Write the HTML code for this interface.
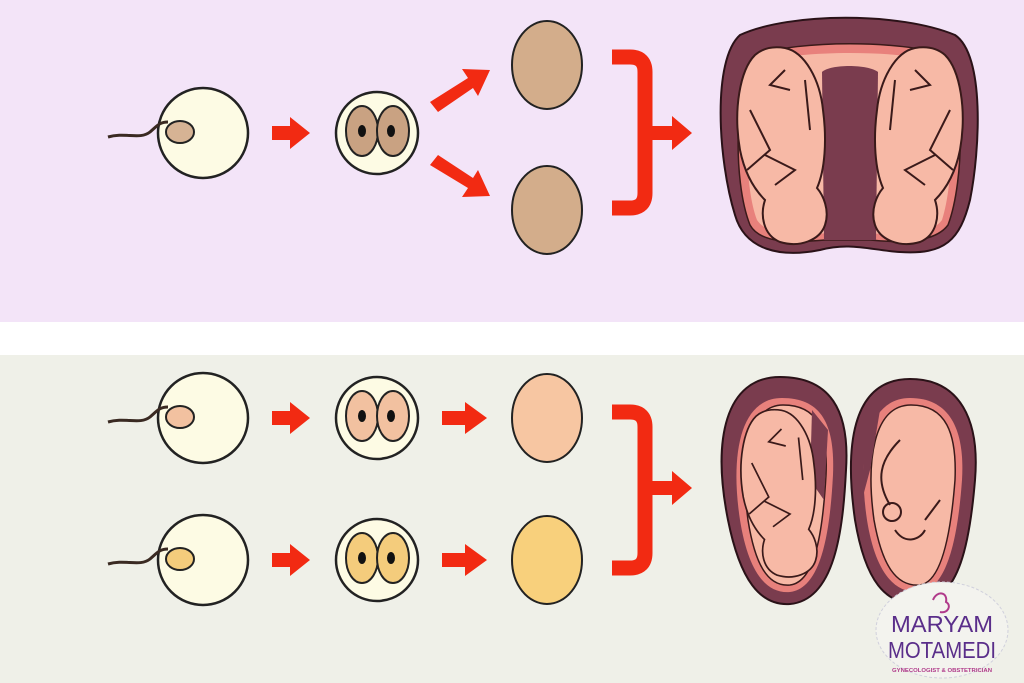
<!DOCTYPE html>
<html><head><style>
html,body{margin:0;padding:0;background:#fff;}
svg{display:block;}
</style></head><body>
<svg width="1024" height="683" viewBox="0 0 1024 683" xmlns="http://www.w3.org/2000/svg">
<defs>
<g id="egg">
  <circle cx="0" cy="0" r="45" fill="#fdfbe4" stroke="#222" stroke-width="2.5"/>
</g>
<g id="fetusL">
  <path d="M-40,-75 C-55,-60 -62,-20 -55,20 C-50,45 -40,60 -30,70 C-35,85 -32,105 -15,112 C5,118 25,110 30,95 C35,80 28,65 22,58 C30,40 32,10 28,-20 C25,-50 10,-78 -10,-82 C-22,-84 -32,-82 -40,-75 Z" fill="#f7b9a6" stroke="#3a1a1a" stroke-width="2"/>
  <path d="M-45,-20 L-25,20 L-48,40 M-10,-60 L-25,-45 L-5,-40 M-30,25 L0,40 L-20,55 M10,-50 L15,0" fill="none" stroke="#3a1a1a" stroke-width="2"/>
</g>
</defs>

<rect x="0" y="0" width="1024" height="322" fill="#f3e4f8"/>
<rect x="0" y="322" width="1024" height="33" fill="#ffffff"/>
<rect x="0" y="355" width="1024" height="328" fill="#eff0e8"/>

<!-- ===== TOP ROW ===== -->
<use href="#egg" x="203" y="133"/>
<path d="M108,137 C125,132 140,140 150,132 C158,125 160,122 168,122" fill="none" stroke="#3a2a22" stroke-width="3"/>
<ellipse cx="180" cy="132" rx="14" ry="11" fill="#d6b394" stroke="#222" stroke-width="2"/>

<path d="M272,126 L290,126 L290,117 L310,133 L290,149 L290,140 L272,140 Z" fill="#f22a12"/>

<circle cx="377" cy="133" r="41" fill="#fdfbe4" stroke="#222" stroke-width="2.5"/>
<ellipse cx="362" cy="131" rx="16" ry="25" fill="#c9a282" stroke="#222" stroke-width="2"/>
<ellipse cx="393" cy="131" rx="16" ry="25" fill="#c9a282" stroke="#222" stroke-width="2"/>
<ellipse cx="362" cy="131" rx="4" ry="6" fill="#111"/>
<ellipse cx="391" cy="131" rx="4" ry="6" fill="#111"/>

<path d="M430,102 L468,78 L462,69 L490,70 L478,96 L473,88 L438,112 Z" fill="#f22a12"/>
<path d="M438,155 L473,178 L478,170 L490,196 L462,197 L468,188 L430,165 Z" fill="#f22a12"/>

<ellipse cx="547" cy="65" rx="35" ry="44" fill="#d3ad8b" stroke="#222" stroke-width="2"/>
<ellipse cx="547" cy="210" rx="35" ry="44" fill="#d3ad8b" stroke="#222" stroke-width="2"/>

<path d="M612,57 L630,57 Q645,57 645,72 L645,193 Q645,208 630,208 L612,208" fill="none" stroke="#f22a12" stroke-width="15"/>
<path d="M645,126 L672,126 L672,116 L692,133 L672,150 L672,140 L645,140 Z" fill="#f22a12"/>

<!-- top uterus -->
<path d="M740,35 C790,12 900,12 955,35 C985,55 980,150 970,200 C960,240 945,255 900,252 C870,250 850,242 820,250 C780,258 745,250 735,215 C718,160 712,60 740,35 Z" fill="#7a3c4e" stroke="#2a1218" stroke-width="2"/>
<path d="M755,55 C800,40 900,40 945,55 C965,80 965,180 948,225 C935,243 900,243 870,240 L825,240 C790,243 760,243 750,225 C732,180 735,80 755,55 Z" fill="#e8817c" stroke="#3a1a1a" stroke-width="1.5"/>
<path d="M762,62 C800,50 900,50 938,62 C955,90 955,180 942,220 C930,236 900,236 870,233 L828,233 C795,236 768,236 757,220 C742,180 745,90 762,62 Z" fill="#f7b9a6"/>
<path d="M822,72 C830,64 868,64 878,72 L876,240 L824,240 Z" fill="#7a3c4e"/>
<use href="#fetusL" x="795" y="130"/>
<use href="#fetusL" x="905" y="130" transform="translate(1810,0) scale(-1,1)"/>

<!-- ===== BOTTOM ROWS ===== -->
<g>
<use href="#egg" x="203" y="418"/>
<path d="M108,422 C125,417 140,425 150,417 C158,410 160,407 168,407" fill="none" stroke="#3a2a22" stroke-width="3"/>
<ellipse cx="180" cy="417" rx="14" ry="11" fill="#f2c1a0" stroke="#222" stroke-width="2"/>
<path d="M272,411 L290,411 L290,402 L310,418 L290,434 L290,425 L272,425 Z" fill="#f22a12"/>
<circle cx="377" cy="418" r="41" fill="#fdfbe4" stroke="#222" stroke-width="2.5"/>
<ellipse cx="362" cy="416" rx="16" ry="25" fill="#f2c1a0" stroke="#222" stroke-width="2"/>
<ellipse cx="393" cy="416" rx="16" ry="25" fill="#f2c1a0" stroke="#222" stroke-width="2"/>
<ellipse cx="362" cy="416" rx="4" ry="6" fill="#111"/>
<ellipse cx="391" cy="416" rx="4" ry="6" fill="#111"/>
<path d="M442,411 L465,411 L465,402 L487,418 L465,434 L465,425 L442,425 Z" fill="#f22a12"/>
<ellipse cx="547" cy="418" rx="35" ry="44" fill="#f7c6a2" stroke="#222" stroke-width="2"/>
</g>
<g>
<use href="#egg" x="203" y="560"/>
<path d="M108,564 C125,559 140,567 150,559 C158,552 160,549 168,549" fill="none" stroke="#3a2a22" stroke-width="3"/>
<ellipse cx="180" cy="559" rx="14" ry="11" fill="#f4cc7c" stroke="#222" stroke-width="2"/>
<path d="M272,553 L290,553 L290,544 L310,560 L290,576 L290,567 L272,567 Z" fill="#f22a12"/>
<circle cx="377" cy="560" r="41" fill="#fdfbe4" stroke="#222" stroke-width="2.5"/>
<ellipse cx="362" cy="558" rx="16" ry="25" fill="#f4cc7c" stroke="#222" stroke-width="2"/>
<ellipse cx="393" cy="558" rx="16" ry="25" fill="#f4cc7c" stroke="#222" stroke-width="2"/>
<ellipse cx="362" cy="558" rx="4" ry="6" fill="#111"/>
<ellipse cx="391" cy="558" rx="4" ry="6" fill="#111"/>
<path d="M442,553 L465,553 L465,544 L487,560 L465,576 L465,567 L442,567 Z" fill="#f22a12"/>
<ellipse cx="547" cy="560" rx="35" ry="44" fill="#f8d07c" stroke="#222" stroke-width="2"/>
</g>

<path d="M612,412 L630,412 Q645,412 645,427 L645,553 Q645,568 630,568 L612,568" fill="none" stroke="#f22a12" stroke-width="15"/>
<path d="M645,481 L672,481 L672,471 L692,488 L672,505 L672,495 L645,495 Z" fill="#f22a12"/>

<!-- bottom uteri -->
<path d="M780,377 C830,377 850,410 846,470 C843,530 835,600 790,604 C760,606 740,580 728,520 C712,440 725,377 780,377 Z" fill="#7a3c4e" stroke="#2a1218" stroke-width="2"/>
<path d="M782,398 C822,398 835,425 833,475 C830,530 822,588 790,592 C765,594 748,570 740,520 C730,455 740,398 782,398 Z" fill="#e8817c"/>
<path d="M783,405 C818,405 828,430 826,475 C823,528 816,582 790,585 C768,587 755,565 748,520 C740,460 748,405 783,405 Z" fill="#f7b9a6" stroke="#3a1a1a" stroke-width="1.5"/>
<path d="M812,410 L828,430 L824,500 L810,480 Z" fill="#7a3c4e"/>
<use href="#fetusL" x="790" y="480" transform="translate(790,480) scale(0.85) translate(-790,-480)"/>

<path d="M910,379 C960,379 980,420 975,480 C970,540 960,600 920,604 C885,606 865,580 855,520 C845,450 850,379 910,379 Z" fill="#7a3c4e" stroke="#2a1218" stroke-width="2"/>
<path d="M910,398 C950,398 965,430 962,480 C958,535 948,588 920,592 C893,594 875,570 867,520 C858,460 865,398 910,398 Z" fill="#e8817c"/>
<path d="M911,405 C946,405 957,433 955,480 C951,532 942,582 920,585 C896,587 882,565 874,520 C866,462 873,405 911,405 Z" fill="#f7b9a6" stroke="#3a1a1a" stroke-width="1.5"/>
<path d="M866,420 L880,410 L870,470 L862,500 Z" fill="#7a3c4e"/>
<circle cx="892" cy="512" r="9" fill="#f7b9a6" stroke="#3a1a1a" stroke-width="2"/>
<path d="M900,440 C880,460 875,480 890,505 M925,520 L940,500 M895,530 C905,545 920,540 925,530" fill="none" stroke="#3a1a1a" stroke-width="2"/>

<!-- logo -->
<ellipse cx="942" cy="630" rx="66" ry="48" fill="#f3f3ee" stroke="#d0d0dc" stroke-width="1" stroke-dasharray="3,2"/>
<path d="M933,600 C937,590 948,592 946,602 C952,605 948,614 940,612" fill="none" stroke="#b03a8a" stroke-width="2"/>
<text x="942" y="632" text-anchor="middle" font-family="Liberation Sans, sans-serif" font-size="23" fill="#5a2e8a" textLength="102" lengthAdjust="spacingAndGlyphs">MARYAM</text>
<text x="942" y="658" text-anchor="middle" font-family="Liberation Sans, sans-serif" font-size="23" fill="#5a2e8a" textLength="108" lengthAdjust="spacingAndGlyphs">MOTAMEDI</text>
<text x="942" y="672" text-anchor="middle" font-family="Liberation Sans, sans-serif" font-size="5.5" font-weight="bold" fill="#b03a8a" textLength="100" lengthAdjust="spacingAndGlyphs">GYNECOLOGIST &amp; OBSTETRICIAN</text>
</svg>
</body></html>
